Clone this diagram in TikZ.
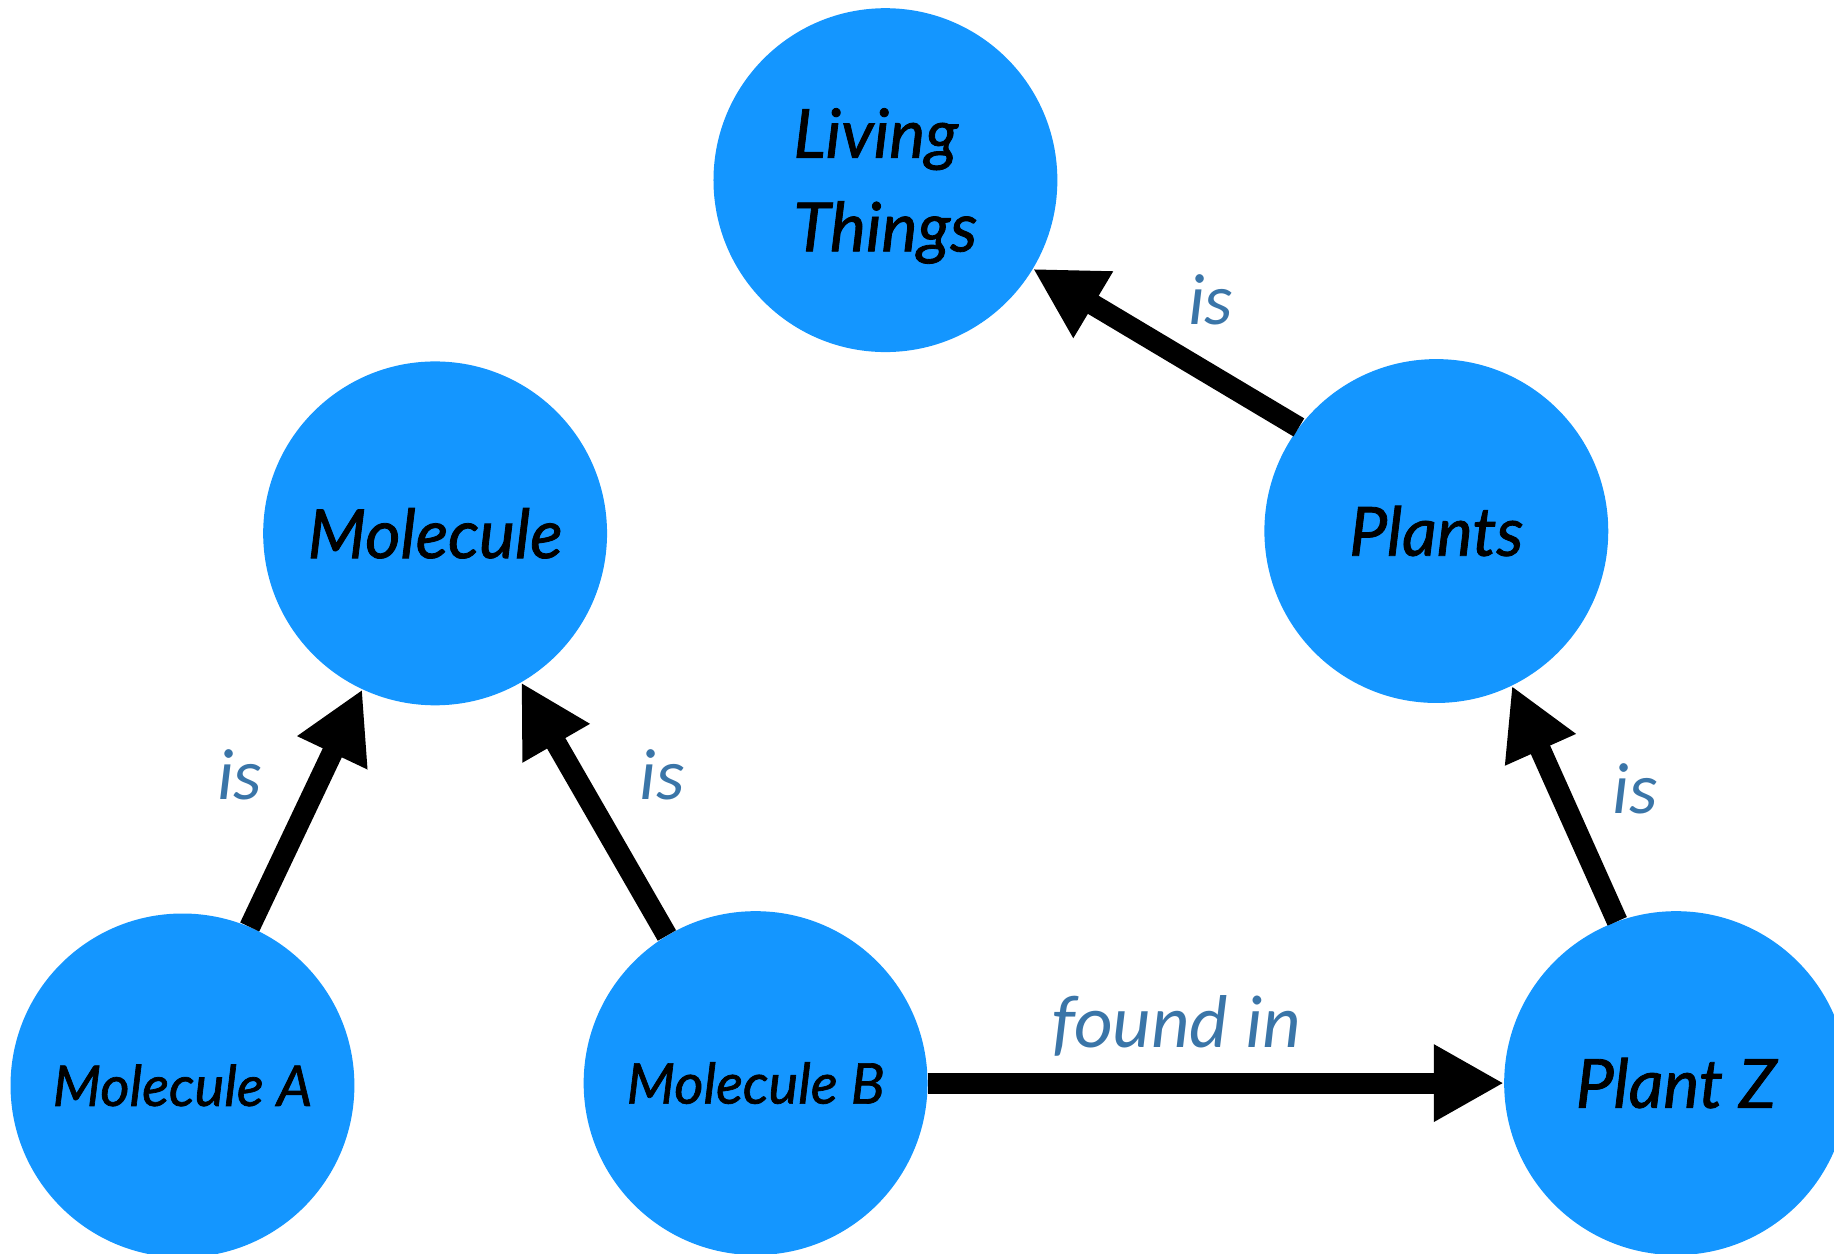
\documentclass[tikz,border=0pt]{standalone}
\usepackage{fontspec}
\setmainfont{Lato}[ItalicFeatures={FakeBold=1.2}]
\newfontfamily\labfont{Carlito}
\usetikzlibrary{arrows.meta}
\definecolor{nodeblue}{HTML}{1496FF}
\definecolor{labblue}{HTML}{3A75A8}
\tikzset{
  concept/.style={circle, fill=nodeblue, minimum size=294pt, inner sep=0pt, align=center,
    font=\fontsize{58}{80}\selectfont\itshape},
  smallconcept/.style={concept, font=\fontsize{48}{60}\selectfont\itshape},
  rel/.style={line width=18pt, -{Triangle[length=60pt,width=62pt]}},
  lab/.style={text=labblue, font=\labfont\fontsize{62}{66}\selectfont\itshape, inner sep=0pt}
}
\begin{document}
\begin{tikzpicture}[x=1pt,y=-1pt]
\useasboundingbox (0,0) rectangle (1568,1072);
\clip (0,0) rectangle (1568,1072);
\node[concept] (living) at (757,154) {};
\node[concept, fill=none, align=left] (livingtext) at (757,159) {Living\\Things};
\node[concept] (molecule) at (372,456) {Molecule};
\node[concept] (plants) at (1228,454) {Plants};
\node[smallconcept] (molA) at (156,928) {Molecule A};
\node[smallconcept] (molB) at (646,926) {Molecule B};
\node[concept] (plantZ) at (1433,926) {Plant Z};
\draw[rel] (molA.67) -- (molecule.245);
\draw[rel] (molB.121) -- (molecule.-60);
\draw[rel] (plantZ.110) -- (plants.-64);
\draw[rel] (plants.143) -- (living.-31);
\draw[rel] (molB.east) -- (plantZ.west);
\node[lab] (l1) at (205,662) {is};
\node[lab] (l2) at (566,662) {is};
\node[lab] (l3) at (1035,256) {is};
\node[lab] (l4) at (1398,674) {is};
\node[lab, font=\labfont\fontsize{64}{66}\selectfont\itshape] (l5) at (1006,877) {found in};
\end{tikzpicture}
\end{document}
